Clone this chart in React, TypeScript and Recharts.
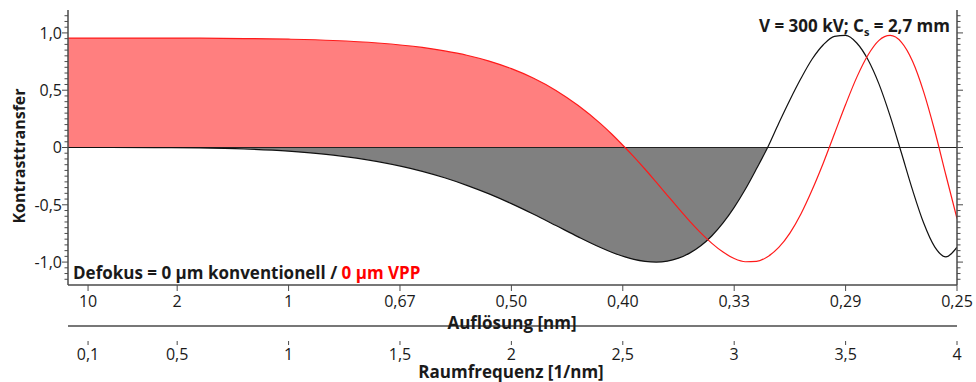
import { ComposedChart, Area, Line, XAxis, YAxis, ReferenceLine } from 'recharts';

// Raumfrequenz in 1/nm
const raumfrequenz = [
  0.01, 0.2, 0.4, 0.6, 0.8, 1.0, 1.2, 1.4, 1.6, 1.7, 1.8, 1.9, 2.0, 2.1, 2.2, 2.3, 2.4, 2.45, 2.51,
  2.55, 2.6, 2.65, 2.7, 2.75, 2.8, 2.85, 2.9, 2.95, 3.0, 3.05, 3.1, 3.15, 3.2, 3.25, 3.3, 3.35, 3.4,
  3.45, 3.5, 3.55, 3.6, 3.65, 3.7, 3.75, 3.8, 3.85, 3.9, 3.95, 4.0,
];

// Defokus 0 µm, konventionell (schwarz)
const konventionell = [
  0, 0, -0.001, -0.004, -0.013, -0.032, -0.066, -0.123, -0.208, -0.264, -0.33, -0.405, -0.49, -0.583,
  -0.681, -0.78, -0.873, -0.914, -0.955, -0.977, -0.994, -1.0, -0.992, -0.966, -0.922, -0.858, -0.77,
  -0.658, -0.522, -0.364, -0.186, 0, 0.212, 0.415, 0.604, 0.772, 0.897, 0.97, 0.978, 0.912, 0.768,
  0.553, 0.274, -0.044, -0.368, -0.657, -0.867, -0.955, -0.87,
];

// 0 µm mit Volta-Phasenplatte (rot)
const vpp = [
  0.955, 0.955, 0.955, 0.954, 0.951, 0.945, 0.934, 0.912, 0.873, 0.843, 0.805, 0.754, 0.688, 0.604,
  0.498, 0.366, 0.208, 0.118, 0, -0.082, -0.19, -0.303, -0.417, -0.531, -0.642, -0.745, -0.837,
  -0.913, -0.969, -0.997, -0.994, -0.953, -0.872, -0.747, -0.578, -0.369, -0.135, 0.12, 0.375, 0.612,
  0.805, 0.935, 0.978, 0.92, 0.755, 0.488, 0.146, -0.24, -0.62,
];

const xTicks = [0.1, 0.5, 1, 1.5, 2, 2.5, 3, 3.5, 4];
const aufloesungLabels = ['10', '2', '1', '0,67', '0,50', '0,40', '0,33', '0,29', '0,25'];
const frequenzLabels = ['0,1', '0,5', '1', '1,5', '2', '2,5', '3', '3,5', '4'];
const yMajorTicks = [-1, -0.5, 0, 0.5, 1];
const yMajorLabels = ['-1,0', '-0,5', '0', '0,5', '1,0'];

// first zero crossings: fills stop here
const VPP_FILL_END = 2.51;
const KONV_FILL_END = 3.15;

const yTicks = Array.from({ length: 47 }, (_, i) => Math.round((-1.15 + i * 0.05) * 100) / 100);

const data = raumfrequenz.map((k, i) => ({
  k,
  konv: konventionell[i],
  vpp: vpp[i],
  vppFill: k <= VPP_FILL_END ? vpp[i] : null,
  konvFill: k <= KONV_FILL_END ? konventionell[i] : null,
}));

const W = 976;
const H = 382;
const LEFT = 68;
const RIGHT = 957;
const TOP = 10;
const BOTTOM = 285;
const AXIS2 = 341;
const AXIS = '#4a4a4a';
const TXT = '#1a1a1a';
const FONT = "'Open Sans', sans-serif";

const LeftTick = (p: any) => {
  const idx = yMajorTicks.indexOf(p.payload.value);
  const major = idx >= 0;
  return (
    <g>
      <line x1={LEFT - (major ? 6 : 3.5)} x2={LEFT} y1={p.y} y2={p.y} stroke={AXIS} strokeWidth={1} />
      {major && (
        <text x={LEFT - 6} y={p.y} dy="0.36em" textAnchor="end" fontSize={16} fill={TXT}>
          {yMajorLabels[idx]}
        </text>
      )}
    </g>
  );
};

const RightTick = (p: any) => {
  const major = yMajorTicks.indexOf(p.payload.value) >= 0;
  return <line x1={RIGHT} x2={RIGHT + (major ? 6 : 3.5)} y1={p.y} y2={p.y} stroke={AXIS} strokeWidth={1} />;
};

const TopTick = (p: any) => <line x1={p.x} x2={p.x} y1={TOP} y2={TOP + 5} stroke={AXIS} strokeWidth={1} />;

const ResTick = (p: any) => {
  const idx = xTicks.indexOf(p.payload.value);
  return (
    <g>
      <line x1={p.x} x2={p.x} y1={BOTTOM} y2={BOTTOM + 6} stroke={AXIS} strokeWidth={1} />
      <text x={p.x} y={307} textAnchor="middle" fontSize={16} fill={TXT}>
        {aufloesungLabels[idx]}
      </text>
    </g>
  );
};

const FreqTick = (p: any) => {
  const idx = xTicks.indexOf(p.payload.value);
  return (
    <g>
      <line x1={p.x} x2={p.x} y1={AXIS2} y2={AXIS2 + 4} stroke={AXIS} strokeWidth={1} />
      <text x={p.x} y={359.5} textAnchor="middle" fontSize={16} fill={TXT}>
        {frequenzLabels[idx]}
      </text>
    </g>
  );
};

export default function App() {
  return (
    <div style={{ position: 'relative', width: W, height: H, fontFamily: FONT }}>
      <style>{'body{margin:0}'}</style>
      <ComposedChart width={W} height={H} data={data} margin={{ top: TOP, right: 0, bottom: 0, left: 0 }}>
        <XAxis
          xAxisId="res"
          dataKey="k"
          type="number"
          domain={[0.01, 4]}
          allowDataOverflow
          ticks={xTicks}
          interval={0}
          height={56}
          tickLine={false}
          tick={ResTick}
          axisLine={{ stroke: AXIS, strokeWidth: 1.5 }}
        />
        <XAxis
          xAxisId="freq"
          dataKey="k"
          type="number"
          domain={[0.01, 4]}
          allowDataOverflow
          ticks={xTicks}
          interval={0}
          height={41}
          tickLine={false}
          tick={FreqTick}
          axisLine={{ stroke: AXIS, strokeWidth: 1.5 }}
        />
        <XAxis
          xAxisId="top"
          orientation="top"
          dataKey="k"
          type="number"
          domain={[0.01, 4]}
          allowDataOverflow
          ticks={xTicks}
          interval={0}
          height={0}
          tickLine={false}
          tick={TopTick}
          axisLine={{ stroke: AXIS, strokeWidth: 1.5 }}
        />
        <YAxis
          yAxisId="left"
          type="number"
          domain={[-1.2, 1.2]}
          allowDataOverflow
          ticks={yTicks}
          interval={0}
          width={LEFT}
          tickLine={false}
          tick={LeftTick}
          axisLine={{ stroke: AXIS, strokeWidth: 1.5 }}
        />
        <YAxis
          yAxisId="right"
          orientation="right"
          type="number"
          domain={[-1.2, 1.2]}
          allowDataOverflow
          ticks={yTicks}
          interval={0}
          width={W - RIGHT}
          tickLine={false}
          tick={RightTick}
          axisLine={{ stroke: AXIS, strokeWidth: 1.5 }}
        />
        <Area
          xAxisId="res"
          yAxisId="left"
          dataKey="vppFill"
          type="monotone"
          baseValue={0}
          fill="#FF7F7F"
          fillOpacity={1}
          stroke="none"
          isAnimationActive={false}
        />
        <Area
          xAxisId="res"
          yAxisId="left"
          dataKey="konvFill"
          type="monotone"
          baseValue={0}
          fill="#808080"
          fillOpacity={1}
          stroke="none"
          isAnimationActive={false}
        />
        <ReferenceLine xAxisId="res" yAxisId="left" y={0} stroke="#222" strokeWidth={1} />
        <Line
          xAxisId="res"
          yAxisId="left"
          dataKey="konv"
          type="monotone"
          stroke="#111"
          strokeWidth={1.2}
          dot={false}
          isAnimationActive={false}
        />
        <Line
          xAxisId="res"
          yAxisId="left"
          dataKey="vpp"
          type="monotone"
          stroke="#FF1A1A"
          strokeWidth={1.2}
          dot={false}
          isAnimationActive={false}
        />
      </ComposedChart>
      <svg
        width={W}
        height={H}
        style={{ position: 'absolute', left: 0, top: 0, pointerEvents: 'none' }}
        fontFamily={FONT}
      >
        <text transform="translate(25,156) rotate(-90)" textAnchor="middle" fontSize={16} fontWeight="bold" fill={TXT}>
          Kontrasttransfer
        </text>
        <text x={512} y={329} textAnchor="middle" fontSize={17} fontWeight="bold" fill={TXT}>
          Auflösung [nm]
        </text>
        <text x={511} y={378} textAnchor="middle" fontSize={17} fontWeight="bold" fill={TXT}>
          Raumfrequenz [1/nm]
        </text>
        <text x={950} y={32} textAnchor="end" fontSize={17} fontWeight="bold" fill={TXT}>
          V = 300 kV; C
          <tspan dy={4} fontSize={11}>s</tspan>
          <tspan dy={-4}> = 2,7 mm</tspan>
        </text>
        <text x={73} y={279} fontSize={17} fontWeight="bold" fill={TXT}>
          Defokus = 0 µm konventionell /<tspan fill="#FF0000"> 0 µm VPP</tspan>
        </text>
      </svg>
    </div>
  );
}
